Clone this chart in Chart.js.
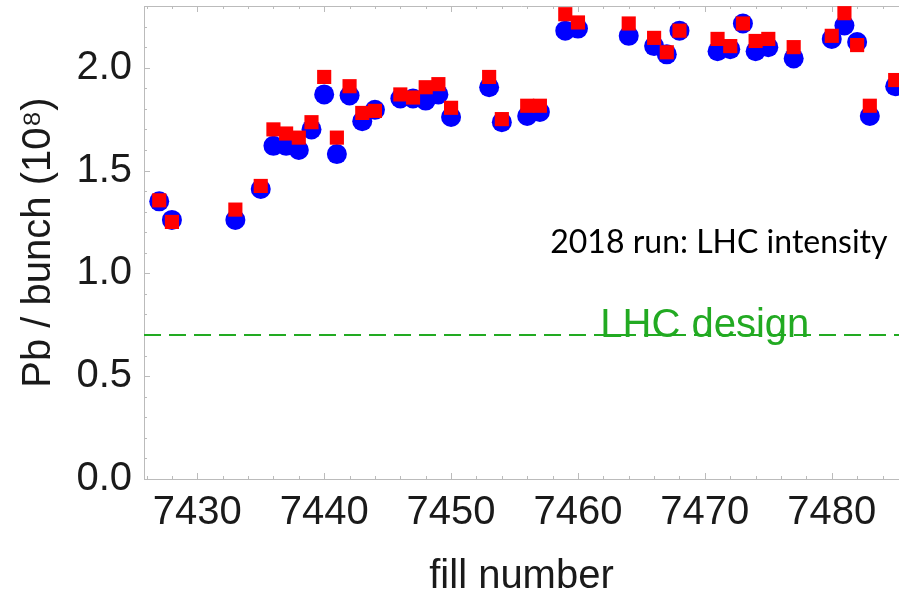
<!DOCTYPE html>
<html>
<head>
<meta charset="utf-8">
<script src="https://cdn.jsdelivr.net/npm/chart.js@4"></script>
<style>
  html, body { margin: 0; padding: 0; background: #ffffff; }
  #wrap { width: 899px; height: 597px; }
</style>
</head>
<body>
<div id="wrap"><canvas id="chartCanvas" width="899" height="597"></canvas></div>
<script>
// -------------------------------------------------------------
// DATA: fill numbers and bunch intensity (10^8 Pb per bunch)
// -------------------------------------------------------------
var fills = [7427, 7428, 7433, 7435, 7436, 7437, 7438, 7439, 7440, 7441,
             7442, 7443, 7444, 7446, 7447, 7448, 7449, 7450, 7453, 7454,
             7456, 7457, 7459, 7460, 7464, 7466, 7467, 7468, 7471, 7472,
             7473, 7474, 7475, 7477, 7480, 7481, 7482, 7483, 7485]

// blue circles
var blueValues = [1.35, 1.26, 1.26, 1.41, 1.62, 1.62, 1.60, 1.70, 1.87, 1.58,
                  1.865, 1.74, 1.795, 1.85, 1.85, 1.84, 1.87, 1.76, 1.905, 1.735,
                  1.765, 1.785, 2.18, 2.19, 2.155, 2.105, 2.065, 2.18, 2.08, 2.09,
                  2.215, 2.08, 2.10, 2.045, 2.14, 2.205, 2.125, 1.765, 1.91]

// red squares
var redValues = [1.355, 1.25, 1.31, 1.425, 1.70, 1.68, 1.66, 1.735, 1.955, 1.66,
                 1.91, 1.78, 1.79, 1.87, 1.855, 1.905, 1.92, 1.805, 1.955, 1.75,
                 1.815, 1.815, 2.26, 2.22, 2.215, 2.145, 2.075, 2.18, 2.14, 2.105,
                 2.215, 2.13, 2.14, 2.10, 2.155, 2.265, 2.11, 1.815, 1.94]

// tick labels
var xTickValues = [7430, 7440, 7450, 7460, 7470, 7480]
var yTickValues = [0, 0.5, 1.0, 1.5, 2.0]

// LHC design value (dashed line)
var designLevel = 0.7
var designLabel = 'LHC design'
var designLabelFill = 7470

// titles / annotation
var xTitle = 'fill number'
var yTitle = 'Pb / bunch (10\u2078)'
var runLabel = '2018 run: LHC intensity'
var runLabelPos = { x: 7484.4, y: 1.10 }

// axis ranges
var xMin = 7425.8
var xMax = 7485.3
var yMin = 0
var yMax = 2.3

var frameColor = '#bbbbbb'
var green = '#22aa22'
var textColor = '#1a1a1a'
var axisFont = '"Liberation Sans", Arial, sans-serif'

// helper: pair fill numbers with values
function toPoints(values) {
    return fills.map((f, i) => ({ x: f, y: values[i] }))
}

// -------------------------------------------------------------
// PLUGIN: Mathematica style frame (top line + inward ticks) and labels
// -------------------------------------------------------------
var framePlugin = {
    id: 'frame',
    beforeDatasetsDraw(chart) {
        var ctx = chart.ctx
        var area = chart.chartArea
        var xs = chart.scales.x
        var ys = chart.scales.y
        ctx.save()
        ctx.strokeStyle = frameColor
        ctx.lineWidth = 1

        // top border
        ctx.beginPath()
        ctx.moveTo(area.left, area.top + 0.5)
        ctx.lineTo(area.right, area.top + 0.5)
        ctx.stroke()

        // x ticks (bottom + top), minor every 2, major every 10
        ctx.beginPath()
        for (var v = Math.ceil(xMin / 2) * 2; v <= xMax; v += 2) {
            var px = Math.round(xs.getPixelForValue(v)) + 0.5
            var len = (v % 10 === 0) ? 6 : 3
            ctx.moveTo(px, area.bottom)
            ctx.lineTo(px, area.bottom - len)
            ctx.moveTo(px, area.top)
            ctx.lineTo(px, area.top + len)
        }
        // y ticks (left), minor every 0.1, major every 0.5
        for (var k = 0; k <= Math.round(yMax * 10); k++) {
            var py = Math.round(ys.getPixelForValue(k / 10)) + 0.5
            var ylen = (k % 5 === 0) ? 6 : 3
            ctx.moveTo(area.left, py)
            ctx.lineTo(area.left + ylen, py)
        }
        ctx.stroke()
        ctx.restore()
    },
    afterDatasetsDraw(chart) {
        var ctx = chart.ctx
        var xs = chart.scales.x
        var ys = chart.scales.y
        ctx.save()

        // "LHC design" label sitting on the dashed line
        ctx.fillStyle = green
        ctx.font = '40px ' + axisFont
        ctx.textAlign = 'center'
        ctx.textBaseline = 'alphabetic'
        ctx.fillText(designLabel, xs.getPixelForValue(designLabelFill), ys.getPixelForValue(designLevel) + 2)

        // run annotation
        ctx.fillStyle = '#000000'
        ctx.font = '32px Lato, "Open Sans", sans-serif'
        ctx.textAlign = 'right'
        ctx.fillText(runLabel, xs.getPixelForValue(runLabelPos.x), ys.getPixelForValue(runLabelPos.y))
        ctx.restore()
    }
}

// -------------------------------------------------------------
// CHART
// -------------------------------------------------------------
var ctx = document.getElementById('chartCanvas')

var myChart = new Chart(ctx, {
    type: 'scatter',
    data: {
        datasets: [
            {
                // dataset 0 is drawn last -> red on top
                label: 'red',
                data: toPoints(redValues),
                pointStyle: 'rect',
                pointRadius: 10,
                pointBorderWidth: 0,
                backgroundColor: '#ff0000',
                borderColor: '#ff0000'
            },
            {
                label: 'blue',
                data: toPoints(blueValues),
                pointStyle: 'circle',
                pointRadius: 10,
                pointBorderWidth: 0,
                backgroundColor: '#0000ff',
                borderColor: '#0000ff'
            },
            {
                label: 'design',
                type: 'line',
                data: [{ x: xMin, y: designLevel }, { x: xMax, y: designLevel }],
                borderColor: green,
                borderWidth: 2,
                borderDash: [17, 8],
                pointRadius: 0,
                fill: false
            }
        ]
    },
    options: {
        responsive: false,
        animation: false,
        layout: { autoPadding: false, padding: { top: 6, right: 0, bottom: 0, left: 0 } },
        plugins: {
            legend: { display: false },
            tooltip: { enabled: false }
        },
        scales: {
            x: {
                type: 'linear',
                min: xMin,
                max: xMax,
                grid: { display: false, drawTicks: false },
                border: { display: true, color: frameColor, width: 1 },
                afterBuildTicks: s => { s.ticks = xTickValues.map(v => ({ value: v })) },
                ticks: {
                    padding: 10,
                    autoSkip: false,
                    maxRotation: 0,
                    color: textColor,
                    font: { family: axisFont, size: 40 },
                    callback: v => String(v)
                },
                title: {
                    display: true,
                    text: xTitle,
                    color: textColor,
                    padding: { top: 0, bottom: 0 },
                    font: { family: axisFont, size: 40, lineHeight: 1 }
                },
                afterFit: s => {
                    s.height = 118
                    s.paddingLeft = 0
                    s.paddingRight = 0
                }
            },
            y: {
                min: yMin,
                max: yMax,
                grid: { display: false, drawTicks: false },
                border: { display: true, color: frameColor, width: 1 },
                afterBuildTicks: s => { s.ticks = yTickValues.map(v => ({ value: v })) },
                ticks: {
                    padding: 12,
                    autoSkip: false,
                    color: textColor,
                    font: { family: axisFont, size: 40 },
                    callback: v => v.toFixed(1)
                },
                title: {
                    display: true,
                    text: yTitle,
                    color: textColor,
                    padding: { top: 19, bottom: 0 },
                    font: { family: axisFont, size: 40, lineHeight: 1 }
                },
                afterFit: s => {
                    s.width = 144
                    s.paddingTop = 0
                    s.paddingBottom = 0
                }
            }
        }
    },
    plugins: [framePlugin]
})
</script>
</body>
</html>
